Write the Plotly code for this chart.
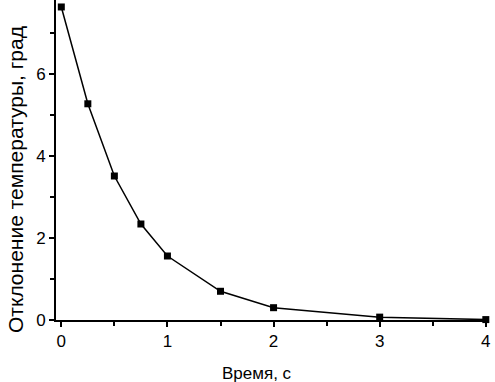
import plotly.graph_objects as go

time_s = [0, 0.25, 0.5, 0.75, 1, 1.5, 2, 3, 4]
deviation = [7.63, 5.27, 3.51, 2.34, 1.56, 0.70, 0.30, 0.07, 0.01]
x_title = "Время, с"
y_title = "Отклонение температуры, град"

fig = go.Figure()
fig.add_trace(go.Scatter(
    x=time_s, y=deviation, mode="lines+markers",
    line=dict(color="black", width=1.5),
    marker=dict(symbol="square", size=7, color="black"),
    showlegend=False, cliponaxis=False,
))

font = dict(family="Liberation Sans, Arial, sans-serif", color="black")
fig.update_layout(
    width=495, height=382,
    margin=dict(l=56, r=6, t=0, b=62),
    paper_bgcolor="white", plot_bgcolor="white",
    font=dict(size=17, **font),
    xaxis=dict(
        range=[-0.05, 4.03], tickvals=[0, 1, 2, 3, 4],
        ticks="outside", ticklen=5, tickwidth=2, tickcolor="black",
        minor=dict(tickvals=[0.5, 1.5, 2.5, 3.5], ticks="outside", ticklen=4, tickwidth=2, tickcolor="black"),
        showline=True, linecolor="black", linewidth=2, showgrid=False, zeroline=False,
        tickfont=dict(size=17), automargin=False,
    ),
    yaxis=dict(
        range=[0, 7.8], tickvals=[0, 2, 4, 6],
        ticks="outside", ticklen=5, tickwidth=2, tickcolor="black",
        minor=dict(tickvals=[1, 3, 5, 7], ticks="outside", ticklen=4, tickwidth=2, tickcolor="black"),
        showline=True, linecolor="black", linewidth=2, showgrid=False, zeroline=False,
        tickfont=dict(size=17), automargin=False,
    ),
    annotations=[
        dict(text=x_title, xref="paper", yref="paper", x=(257 - 56) / (495 - 62), y=-(373 - 320) / 320,
             showarrow=False, font=dict(size=17), xanchor="center", yanchor="middle"),
        dict(text=y_title, xref="paper", yref="paper", x=-(56 - 15) / (495 - 62), y=(320 - 180) / 320,
             showarrow=False, textangle=-90, font=dict(size=21), xanchor="center", yanchor="middle"),
    ],
)
fig.write_html("out.html", config={"displayModeBar": False},
               post_script="document.body.style.margin='0px';")
